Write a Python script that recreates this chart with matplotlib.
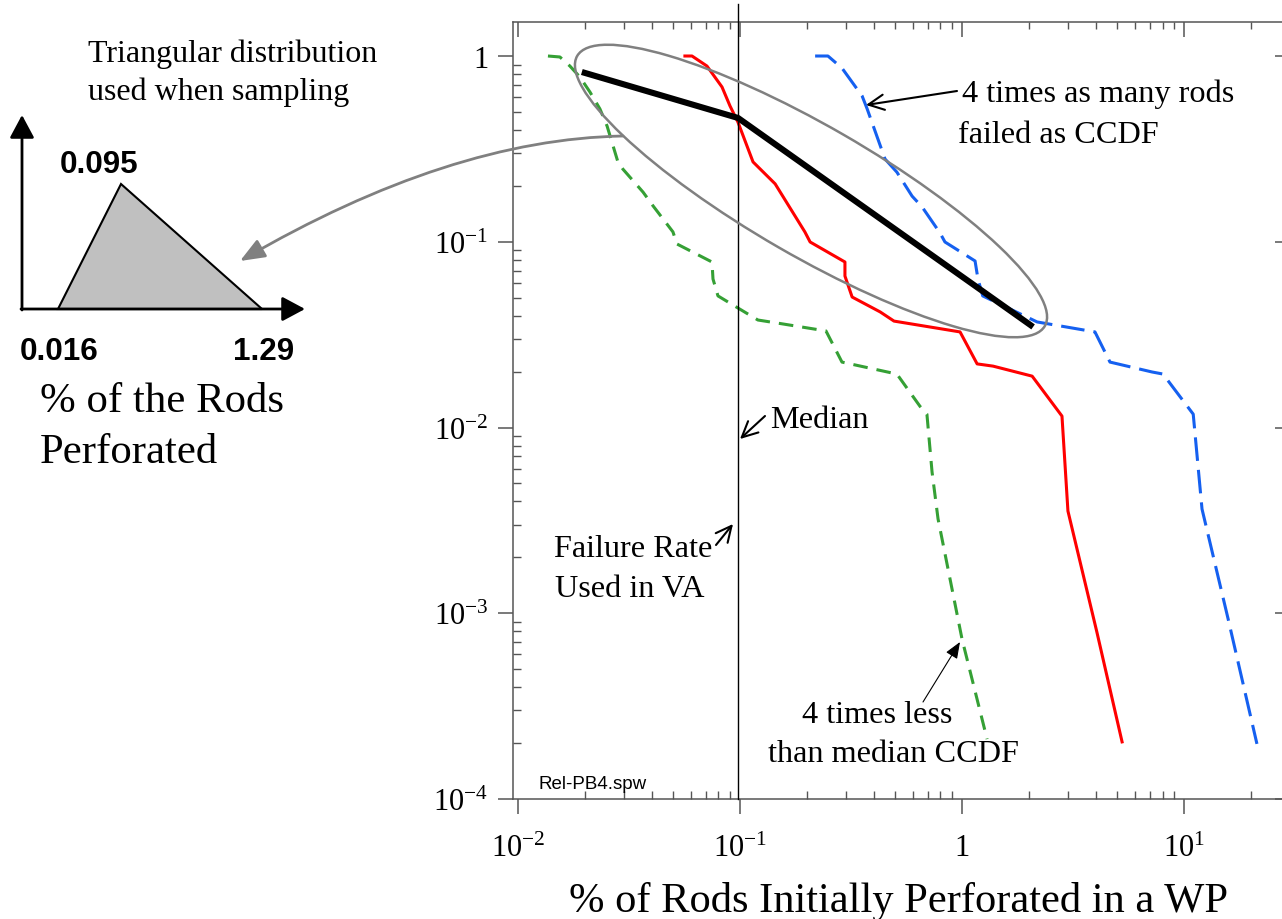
import matplotlib
matplotlib.use('Agg')
import matplotlib.pyplot as plt
import matplotlib.transforms as mtransforms
from matplotlib.patches import Ellipse, FancyArrowPatch, Polygon
from matplotlib.path import Path
from matplotlib.ticker import FixedLocator, FixedFormatter, LogLocator, NullFormatter

# ---------------- data ----------------
green_x = [0.01365, 0.01545, 0.01714, 0.0190, 0.0211, 0.0234, 0.0252, 0.0260, 0.0282, 0.0297,
           0.0366, 0.0406, 0.0499, 0.0520, 0.0748, 0.0756, 0.0796, 0.0979, 0.1205, 0.156,
           0.244, 0.288, 0.509, 0.647, 0.695, 0.733, 0.780, 1.0, 1.297]
green_y = [1.0, 0.988, 0.883, 0.771, 0.640, 0.519, 0.420, 0.371, 0.269, 0.246,
           0.185, 0.156, 0.113, 0.0973, 0.0778, 0.0630, 0.0511, 0.0440, 0.0379, 0.0361,
           0.0331, 0.0225, 0.0194, 0.0130, 0.0118, 0.00576, 0.00322, 0.000727, 0.000210]

red_x = [0.0565, 0.0608, 0.0710, 0.0830, 0.0902, 0.0979, 0.1145, 0.144, 0.196, 0.207,
         0.297, 0.297, 0.320, 0.428, 0.494, 0.980, 1.17, 1.38, 2.07, 2.82, 3.00, 4.05, 5.26]
red_y = [1.0, 1.0, 0.883, 0.681, 0.538, 0.441, 0.269, 0.205, 0.113, 0.0997,
         0.0778, 0.0654, 0.0504, 0.0419, 0.0374, 0.0327, 0.0220, 0.0214, 0.0189, 0.01152,
         0.00355, 0.000792, 0.000203]

blue_x = [0.218, 0.249, 0.288, 0.355, 0.374, 0.450, 0.509, 0.596, 0.661, 0.796, 0.838,
          1.145, 1.18, 1.24, 2.18, 3.97, 4.64, 7.18, 8.04, 11.0, 12.05, 15.8, 21.3]
blue_y = [1.0, 1.0, 0.861, 0.609, 0.519, 0.279, 0.237, 0.176, 0.154, 0.1115, 0.0997,
          0.0788, 0.0630, 0.0511, 0.0370, 0.0327, 0.0225, 0.0199, 0.0194, 0.0118, 0.00364,
          0.000931, 0.000198]

fit_x = [0.0194, 0.098, 2.09]
fit_y = [0.820, 0.464, 0.0348]

median_x = 0.098

x_ticks = [1e-2, 1e-1, 1, 10]
x_ticklabels = ['$10^{-2}$', '$10^{-1}$', '1', '$10^{1}$']
y_ticks = [1e-4, 1e-3, 1e-2, 1e-1, 1]
y_ticklabels = ['$10^{-4}$', '$10^{-3}$', '$10^{-2}$', '$10^{-1}$', '1']

tri_labels = ['0.016', '0.095', '1.29']

# ---------------- style ----------------
plt.rcParams['font.family'] = ['Liberation Serif', 'DejaVu Serif']
plt.rcParams['mathtext.fontset'] = 'custom'
plt.rcParams['mathtext.rm'] = 'Liberation Serif'
plt.rcParams['mathtext.it'] = 'Liberation Serif:italic'
plt.rcParams['mathtext.bf'] = 'Liberation Serif:bold'
plt.rcParams['lines.scale_dashes'] = False

W, H = 1282, 920
fig = plt.figure(figsize=(W / 100, H / 100), dpi=100)
px = mtransforms.Affine2D().scale(1 / W, -1 / H).translate(0, 1) + fig.transFigure

L, R, T, B = 513, 1284, 22.7, 800
pos = [L / W, (H - B) / H, (R - L) / W, (B - T) / H]
ax = fig.add_axes(pos)
ax.set_xscale('log')
ax.set_yscale('log')
ax.set_xlim(0.0095, 28.2)
ax.set_ylim(1e-4, 1.53)

spine_col = '#555555'
for s in ax.spines.values():
    s.set_color(spine_col)
    s.set_linewidth(1.1)

ax.xaxis.set_major_locator(FixedLocator(x_ticks))
ax.xaxis.set_major_formatter(FixedFormatter(x_ticklabels))
ax.yaxis.set_major_locator(FixedLocator(y_ticks))
ax.yaxis.set_major_formatter(FixedFormatter(y_ticklabels))
ax.xaxis.set_minor_locator(LogLocator(base=10, subs=range(2, 10), numticks=20))
ax.yaxis.set_minor_locator(LogLocator(base=10, subs=range(2, 10), numticks=20))
ax.xaxis.set_minor_formatter(NullFormatter())
ax.yaxis.set_minor_formatter(NullFormatter())

ax.tick_params(which='major', direction='out', length=10.8, width=1.1, color=spine_col,
               labelsize=22, top=False, right=False)
ax.tick_params(which='minor', direction='in', length=5.8, width=1.0, color=spine_col,
               top=False, right=False)
ax.tick_params(axis='x', which='major', pad=14)
ax.tick_params(axis='y', which='major', pad=7)

# overlay axes for inward top / right ticks
ax2 = fig.add_axes(pos, frameon=False)
ax2.set_xscale('log')
ax2.set_yscale('log')
ax2.set_xlim(ax.get_xlim())
ax2.set_ylim(ax.get_ylim())
ax2.xaxis.set_major_locator(FixedLocator(x_ticks))
ax2.yaxis.set_major_locator(FixedLocator(y_ticks))
ax2.xaxis.set_minor_locator(LogLocator(base=10, subs=range(2, 10), numticks=20))
ax2.yaxis.set_minor_locator(FixedLocator([]))
ax2.tick_params(axis='x', which='major', direction='in', length=10.8, width=1.1, color=spine_col,
                top=True, bottom=False, labelbottom=False, labeltop=False)
ax2.tick_params(axis='x', which='minor', direction='in', length=5.0, width=1.0, color=spine_col,
                top=True, bottom=False)
ax2.tick_params(axis='y', which='major', direction='in', length=6.5, width=1.1, color=spine_col,
                right=True, left=False, labelleft=False, labelright=False)
ax2.tick_params(axis='y', which='minor', right=False, left=False)
ax2.patch.set_visible(False)

# ---------------- curves ----------------
ax.plot(green_x, green_y, color='#35a035', lw=2.2, linestyle=(0, (10.5, 6.5)), zorder=3)
ax.plot(red_x, red_y, color='#ff0000', lw=2.2, zorder=3)
ax.plot(blue_x, blue_y, color='#1560f0', lw=2.2, linestyle=(0, (17, 6.5)), zorder=3)
ax.plot(fit_x, fit_y, color='black', lw=4.4, solid_capstyle='butt', zorder=4)
ax.plot([median_x, median_x], [1e-4, 1.9], color='black', lw=1.0, clip_on=False, zorder=4)

# ---------------- annotations ----------------
ell = Ellipse((811, 192), width=540, height=130, angle=30, transform=px, fill=False,
              edgecolor='#808080', lw=1.8, zorder=5)
fig.add_artist(ell)

curve = Path([(623, 137), (450, 140), (240, 262)], [Path.MOVETO, Path.CURVE3, Path.CURVE3])
garrow = FancyArrowPatch(path=curve, arrowstyle='-|>,head_length=15,head_width=6',
                         mutation_scale=1, color='#808080', lw=2.0, transform=px, zorder=5)
fig.add_artist(garrow)


def txt(x, y, s, size, ha='left', va='baseline', **kw):
    fig.text(x, y, s, fontsize=size, ha=ha, va=va, transform=px, **kw)


def arrow(p0, p1, style='->,head_length=0.45,head_width=0.22', lw=1.5, ms=25, color='black'):
    a = FancyArrowPatch(p0, p1, arrowstyle=style, mutation_scale=ms, lw=lw, color=color,
                        transform=px, shrinkA=0, shrinkB=0, zorder=6)
    fig.add_artist(a)


txt(962, 102, '4 times as many rods', 23.2)
txt(958, 143, 'failed as CCDF', 23.2)
arrow((957, 92), (866, 106))

txt(770, 428, 'Median', 23.2)
arrow((765, 417), (740, 440))

txt(554, 557, 'Failure Rate', 23.2)
txt(555, 597, 'Used in VA', 23.2)
arrow((716, 546), (733, 525))

txt(802, 723, '4 times less', 23.2)
txt(768, 762, 'than median CCDF', 23.2)
arrow((923, 703), (960, 643), style='-|>,head_length=0.5,head_width=0.2', lw=0.8, ms=20)

txt(538, 789, 'Rel-PB4.spw', 13.5, family=['Liberation Sans', 'DejaVu Sans'])

txt(899, 912, '% of Rods Initially Perforated in a WP', 30.6, ha='center')

# ---------------- triangular distribution sketch ----------------
txt(88, 62, 'Triangular distribution', 23)
txt(88, 100, 'used when sampling', 23)

tri = Polygon([(58, 310), (121, 185), (262, 310)], closed=True, transform=px,
              facecolor='#c0c0c0', edgecolor='black', lw=1.5, zorder=3)
fig.add_artist(tri)
arrow((22, 311), (22, 116), style='-|>,head_length=14,head_width=7.5', lw=2.0, ms=1)
arrow((21, 310), (305, 310), style='-|>,head_length=14,head_width=7.5', lw=2.0, ms=1)

bold_sans = dict(family=['Liberation Sans', 'DejaVu Sans'], fontweight='bold')
txt(60, 173, tri_labels[1], 22.6, **bold_sans)
txt(20, 360, tri_labels[0], 22.6, **bold_sans)
txt(233, 360, tri_labels[2], 22.6, **bold_sans)

txt(40, 412, '% of the Rods', 30.8)
txt(40, 463, 'Perforated', 30.8)

fig.savefig('out.png', dpi=100)
